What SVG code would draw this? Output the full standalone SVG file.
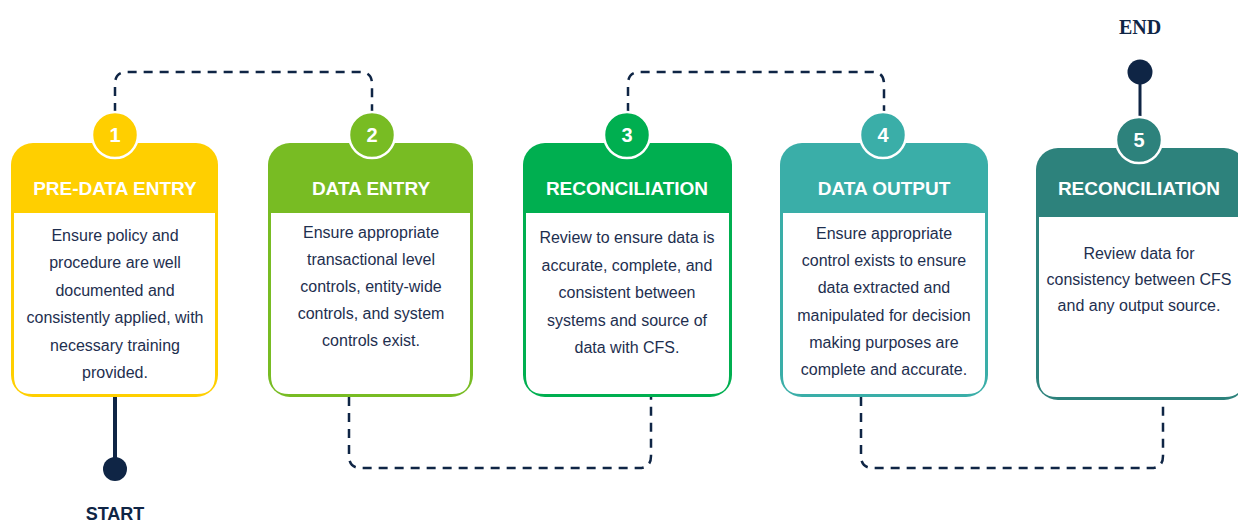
<svg xmlns="http://www.w3.org/2000/svg" width="1238" height="525" viewBox="0 0 1238 525">
  <style>
    .hdr { font-family: "Liberation Sans", Arial, sans-serif; font-weight: bold; font-size: 19px; fill: #ffffff; text-anchor: middle; }
    .num { font-family: "Liberation Sans", Arial, sans-serif; font-weight: bold; font-size: 20px; fill: #ffffff; text-anchor: middle; }
    .body { font-family: "Liberation Sans", Arial, sans-serif; font-size: 16px; fill: #1e2f4f; text-anchor: middle; }
    .dash { fill: none; stroke: #0f2545; stroke-width: 2.5; stroke-dasharray: 9 7; }
    .solid { fill: none; stroke: #0f2545; stroke-width: 4; }
    .dot { fill: #0f2545; }
    .badge { stroke: #ffffff; stroke-width: 2.5; }
    .inner { fill: #ffffff; }
  </style>

  <!-- connectors -->
  <g id="connectors">
    <path class="dash" d="M115,112 V84 Q115,72 127,72 H360 Q372,72 372,84 V112"/>
    <path class="dash" d="M349,397 V456 Q349,468 361,468 H639 Q651,468 651,456 V397"/>
    <path class="dash" d="M628,112 V84 Q628,72 640,72 H872 Q884,72 884,84 V112"/>
    <path class="dash" d="M861,397 V456 Q861,468 873,468 H1151 Q1163,468 1163,456 V400"/>
    <path class="solid" d="M115,397 V469"/>
    <path class="solid" style="stroke-width:3" d="M1140,72 V117"/>
  </g>

  <!-- start marker -->
  <g id="start">
    <circle class="dot" cx="115" cy="469" r="12"/>
    <text x="115" y="520" style="font-family:'Liberation Sans',Arial,sans-serif;font-weight:bold;font-size:18px;fill:#0f2545" text-anchor="middle">START</text>
  </g>

  <!-- end marker -->
  <g id="end">
    <circle class="dot" cx="1140" cy="72" r="12.5"/>
    <text x="1140" y="34" style="font-family:'Liberation Serif','Times New Roman',serif;font-weight:bold;font-size:20px;fill:#0f2545" text-anchor="middle">END</text>
  </g>

  <!-- step 1 -->
  <g id="step1">
    <rect x="11" y="143" width="207" height="254" rx="22" fill="#ffcf00"/>
    <path class="inner" d="M14,213 H215 V376 Q215,394 197,394 H32 Q14,394 14,376 Z"/>
    <text class="hdr" x="115" y="195">PRE-DATA ENTRY</text>
    <circle class="badge" cx="115" cy="135" r="23" fill="#ffcf00"/>
    <text class="num" x="115" y="142">1</text>
    <text class="body" x="115" y="241">Ensure policy and</text>
    <text class="body" x="115" y="268.4">procedure are well</text>
    <text class="body" x="115" y="295.8">documented and</text>
    <text class="body" x="115" y="323.2">consistently applied, with</text>
    <text class="body" x="115" y="350.6">necessary training</text>
    <text class="body" x="115" y="378">provided.</text>
  </g>

  <!-- step 2 -->
  <g id="step2">
    <rect x="268" y="143" width="205" height="254" rx="22" fill="#78bc23"/>
    <path class="inner" d="M271,213 H470 V376 Q470,394 452,394 H289 Q271,394 271,376 Z"/>
    <text class="hdr" x="371" y="195">DATA ENTRY</text>
    <circle class="badge" cx="372" cy="135" r="23" fill="#78bc23"/>
    <text class="num" x="372" y="142">2</text>
    <text class="body" x="371" y="238">Ensure appropriate</text>
    <text class="body" x="371" y="265">transactional level</text>
    <text class="body" x="371" y="292">controls, entity-wide</text>
    <text class="body" x="371" y="319">controls, and system</text>
    <text class="body" x="371" y="346">controls exist.</text>
  </g>

  <!-- step 3 -->
  <g id="step3">
    <rect x="523" y="143" width="209" height="254" rx="22" fill="#00af50"/>
    <path class="inner" d="M526,213 H729 V376 Q729,394 711,394 H544 Q526,394 526,376 Z"/>
    <text class="hdr" x="627" y="195">RECONCILIATION</text>
    <circle class="badge" cx="627" cy="135" r="23" fill="#00af50"/>
    <text class="num" x="627" y="142">3</text>
    <text class="body" x="627" y="243">Review to ensure data is</text>
    <text class="body" x="627" y="270.5">accurate, complete, and</text>
    <text class="body" x="627" y="298">consistent between</text>
    <text class="body" x="627" y="325.5">systems and source of</text>
    <text class="body" x="627" y="353">data with CFS.</text>
  </g>

  <!-- step 4 -->
  <g id="step4">
    <rect x="780" y="143" width="208" height="254" rx="22" fill="#3aaea8"/>
    <path class="inner" d="M783,213 H985 V376 Q985,394 967,394 H801 Q783,394 783,376 Z"/>
    <text class="hdr" x="884" y="195">DATA OUTPUT</text>
    <circle class="badge" cx="883" cy="135" r="23" fill="#3aaea8"/>
    <text class="num" x="883" y="142">4</text>
    <text class="body" x="884" y="239">Ensure appropriate</text>
    <text class="body" x="884" y="266.2">control exists to ensure</text>
    <text class="body" x="884" y="293.4">data extracted and</text>
    <text class="body" x="884" y="320.6">manipulated for decision</text>
    <text class="body" x="884" y="347.8">making purposes are</text>
    <text class="body" x="884" y="375">complete and accurate.</text>
  </g>

  <!-- step 5 -->
  <g id="step5">
    <rect x="1036" y="148" width="210" height="252" rx="22" fill="#2d827c"/>
    <path class="inner" d="M1039,217 H1243 V379 Q1243,397 1225,397 H1057 Q1039,397 1039,379 Z"/>
    <text class="hdr" x="1139" y="195">RECONCILIATION</text>
    <circle class="badge" cx="1139" cy="140" r="23" fill="#2d827c"/>
    <text class="num" x="1139" y="147">5</text>
    <text class="body" x="1139" y="259">Review data for</text>
    <text class="body" x="1139" y="285">consistency between CFS</text>
    <text class="body" x="1139" y="311">and any output source.</text>
  </g>
</svg>
